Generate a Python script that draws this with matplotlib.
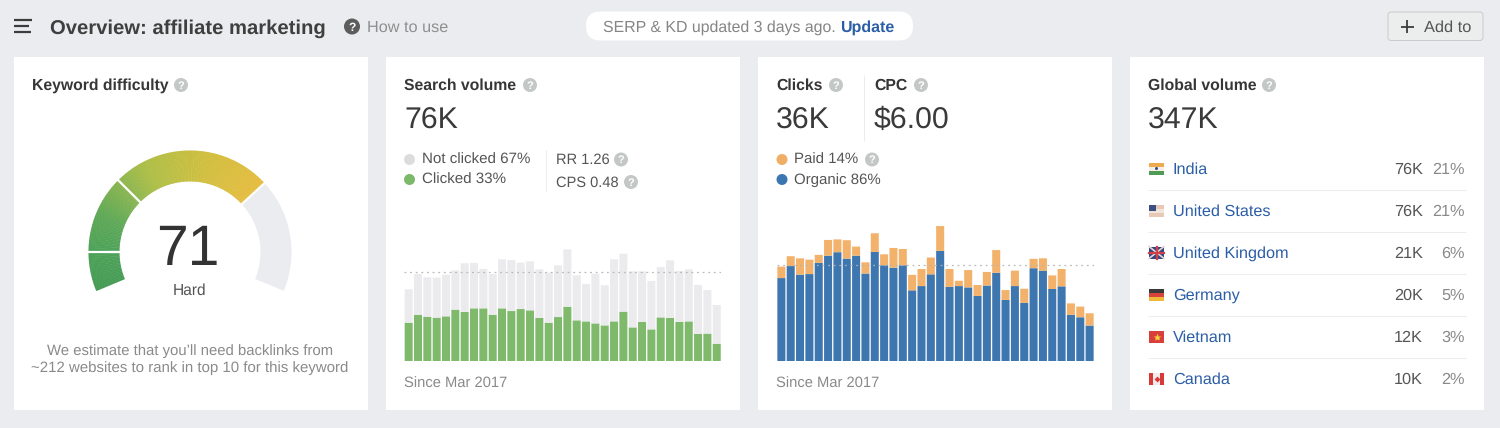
import numpy as np
import matplotlib
matplotlib.use("Agg")
import matplotlib.pyplot as plt
from matplotlib.patches import Rectangle, Circle, Wedge, FancyBboxPatch

plt.rcParams['font.family'] = ['Liberation Sans', 'DejaVu Sans']
plt.rcParams['text.hinting'] = 'none'
plt.rcParams['text.hinting_factor'] = 8

# ---------- data ----------
clicked_k = [32.6,39.4,37.7,36.9,38.0,43.7,41.7,44.8,44.8,39.4,44.8,42.5,44.2,43.1,36.6,32.6,37.4,
             46.2,34.6,33.7,32.0,30.3,33.7,42.0,28.6,33.2,26.9,37.1,36.6,33.2,33.7,23.0,23.3,14.7]
volume_k = [61.0,74.0,71.2,70.9,73.5,77.1,83.1,83.4,78.3,74.0,86.5,85.9,83.7,84.8,78.0,75.2,81.4,
            95.0,72.9,65.5,74.3,64.4,86.5,91.3,76.3,76.3,68.1,80.0,85.6,76.6,78.0,64.7,60.4,47.6]
volume_avg = 76

organic_k = [31.1,35.6,32.4,32.6,36.8,39.5,40.8,38.4,39.5,32.8,40.9,35.9,35.0,35.9,26.5,28.1,32.5,
             41.3,27.8,28.1,27.6,24.4,28.3,33.1,22.9,28.1,21.8,34.8,33.9,27.0,28.0,17.3,16.4,13.3]
clicks_k = [35.4,39.3,38.5,38.0,39.8,45.4,45.6,45.3,42.9,37.0,47.9,40.0,42.4,42.0,32.3,34.5,38.8,
            50.6,34.5,30.1,34.1,28.5,33.4,41.6,26.6,33.9,27.1,38.3,38.5,32.1,34.5,21.6,20.4,17.9]
clicks_avg = 36

difficulty = 71
gauge_breaks = [10, 30, 100]

countries = ["India", "United States", "United Kingdom", "Germany", "Vietnam", "Canada"]
country_volume = ["76K", "76K", "21K", "20K", "12K", "10K"]
country_share = ["21%", "21%", "6%", "5%", "3%", "2%"]

# ---------- colours ----------
BG = "#ebecef"; DARK = "#363636"; MID = "#555555"; GREY = "#8a8a8a"; LINK = "#2b5ea7"
ICON = "#c3c8c6"; LINE = "#ececec"

W, H = 1500, 428
fig = plt.figure(figsize=(W/100, H/100), dpi=100, facecolor=BG)

def px_axes(x0, y0, x1, y1, z=2):
    ax = fig.add_axes([x0/W, 1-y1/H, (x1-x0)/W, (y1-y0)/H], zorder=z)
    ax.patch.set_alpha(0)
    ax.set_axis_off()
    return ax

ui = px_axes(0, 0, W, H, z=1)
ui.set_xlim(0, W); ui.set_ylim(H, 0)

def T(x, y, s, size=15, color=MID, weight="normal", ha="left", **k):
    # y is the vertical middle of the capitals
    return ui.text(x, y-0.7+0.36*size, s, fontsize=size*0.72, color=color, fontweight=weight,
                   ha=ha, va="baseline", **k)

def help_icon(x, y, r=7, fc=ICON, tc="white", size=11):
    ui.add_patch(Circle((x, y), r, fc=fc, ec="none"))
    T(x, y+0.7, "?", size=size, color=tc, weight="bold", ha="center")

def hline(x0, x1, y, c=LINE, lw=1):
    ui.plot([x0, x1], [y, y], color=c, lw=lw*0.72, solid_capstyle="butt")

def vline(x, y0, y1, c=LINE, lw=1):
    ui.plot([x, x], [y0, y1], color=c, lw=lw*0.72, solid_capstyle="butt")

# cards
for x0, x1 in [(14, 368), (386, 740), (758, 1112), (1130, 1484)]:
    ui.add_patch(Rectangle((x0, 57), x1-x0, 353, fc="white", ec="none"))

# header
for y, x1 in [(20, 32), (26, 29), (32, 31)]:
    ui.plot([14, x1], [y, y], color="#3c3c3c", lw=1.6, solid_capstyle="butt")
T(50, 27, "Overview: affiliate marketing", size=20.3, color="#3f3f3f", weight="bold")
help_icon(352, 26.5, r=8, fc="#5c5c5c", size=12)
T(367, 26.5, "How to use", size=16.2, color="#8f8f8f")

ui.add_patch(FancyBboxPatch((586, 11.5), 327, 29, boxstyle="round,pad=0,rounding_size=14.5",
                            fc="white", ec="none"))
T(603, 26.5, "SERP & KD updated 3 days ago.", size=15.85, color="#858585")
T(840, 26.5, "Update", size=16, color=LINK, weight="bold")

ui.add_patch(FancyBboxPatch((1388, 12), 95, 28.5, boxstyle="round,pad=0,rounding_size=3",
                            fc="#eceded", ec="#c8ccca", lw=0.7))
ui.plot([1400.5, 1413.5], [26.5, 26.5], color="#3c3c3c", lw=1.3, solid_capstyle="butt")
ui.plot([1407, 1407], [20, 33], color="#3c3c3c", lw=1.3, solid_capstyle="butt")
T(1424, 26.5, "Add to", size=16.4, color="#555555")

# card 1 text
T(32, 85, "Keyword difficulty", size=15.7, color=DARK, weight="bold")
help_icon(181, 85)
T(190, 290, "Hard", size=15.5, color=MID, ha="center")
T(190, 350, "We estimate that you\u2019ll need backlinks from", size=14.9, color=GREY, ha="center")
T(190, 367, "~212 websites to rank in top 10 for this keyword", size=15, color=GREY, ha="center")

# gauge
g = px_axes(80, 142, 300, 362)
g.set_xlim(-110, 110); g.set_ylim(-110, 110)
START, SWEEP, RO, RI = 202.5, 225.0, 101.5, 70.5
def ang(p):
    return START - SWEEP*p/100

def seg_color(p):
    stops = [(0, "#479c55"), (10, "#4ea25a"), (20, "#5fa958"), (30, "#8db651"),
             (38, "#aebf48"), (55, "#d2bf40"), (71, "#e5bd42")]
    xs = [s[0] for s in stops]
    rgb = np.array([matplotlib.colors.to_rgb(s[1]) for s in stops])
    return [float(np.interp(p, xs, rgb[:, i])) for i in range(3)]

for p in np.arange(0, difficulty, 0.5):
    q = min(p+0.5, difficulty)
    g.add_patch(Wedge((0, 0), RO, ang(q)-0.15, ang(p)+0.15, width=RO-RI, fc=seg_color(p+0.25), ec="none"))
g.add_patch(Wedge((0, 0), RO, ang(100), ang(difficulty), width=RO-RI, fc="#ebecef", ec="none"))
for b in gauge_breaks[:2] + [difficulty]:
    a = np.deg2rad(ang(b))
    g.plot([(RI-1)*np.cos(a), (RO+1)*np.cos(a)], [(RI-1)*np.sin(a), (RO+1)*np.sin(a)],
           color="white", lw=1.6, solid_capstyle="butt")
T(188, 245, str(difficulty), size=57, color="#333333", ha="center")

# card 2 text
T(404, 85, "Search volume", size=15.7, color=DARK, weight="bold")
help_icon(530, 85)
T(404, 118, "76K", size=30.3, color="#3a3a3a")
ui.add_patch(Circle((409.5, 159.5), 5.5, fc="#dcdcdc", ec="none"))
ui.add_patch(Circle((409.5, 179.5), 5.5, fc="#7db96b", ec="none"))
T(422, 159.5, "Not clicked 67%", size=15.1, color=MID)
T(422, 179.5, "Clicked 33%", size=15.1)
vline(546, 150, 191)
T(556, 159.5, "RR 1.26", size=14.6)
T(556, 182, "CPS 0.48", size=14.6)
help_icon(621, 159.5)
help_icon(631, 182)
T(404, 383, "Since Mar 2017", size=14.7, color=GREY)

# card 3 text
T(776, 85, "Clicks", size=15.7, color=DARK, weight="bold")
help_icon(836, 85)
T(874, 85, "CPC", size=15.7, color=DARK, weight="bold")
help_icon(921, 85)
vline(864, 75, 141)
T(776, 118, "36K", size=30.3, color="#3a3a3a")
T(874, 118, "$6.00", size=30.3, color="#3a3a3a")
ui.add_patch(Circle((782, 159.5), 5.5, fc="#f0ad66", ec="none"))
ui.add_patch(Circle((782, 179.5), 5.5, fc="#3c76b0", ec="none"))
T(794, 159.5, "Paid 14%", size=15)
T(794, 179.5, "Organic 86%", size=15)
help_icon(872, 159.5)
T(776, 383, "Since Mar 2017", size=14.7, color=GREY)

# stacked bars
def stacked(x0, x1, ymax, lower, total, avg, c_low, c_up):
    ax = px_axes(x0, 221, x1, 361, z=3)
    xs = np.arange(len(lower))
    lower = np.array(lower); total = np.array(total)
    b1 = ax.bar(xs, lower, width=0.86, color=c_low, linewidth=0)
    b2 = ax.bar(xs, total-lower, bottom=lower, width=0.86, color=c_up, linewidth=0)
    for r in list(b1) + list(b2):
        r.set_snap(False)
    ax.axhline(avg, color="#b4b4b4", lw=0.9, ls=(0, (1.5, 3)), alpha=0.9)
    ax.set_xlim(-0.5, len(lower)-0.5)
    ax.set_ylim(0, ymax)

stacked(404, 721.4, 119.1, clicked_k, volume_k, volume_avg, "#7fba6c", "#ebebee")
stacked(776.7, 1094.3, 52.5, organic_k, clicks_k, clicks_avg, "#3e76b0", "#f2b26c")

# card 4 text
T(1148, 85, "Global volume", size=15.7, color=DARK, weight="bold")
help_icon(1269, 85)
T(1148, 118, "347K", size=30.3, color="#3a3a3a")

FH = 12
def stripes(x, y, cols, w=15, h=FH):
    n = len(cols)
    for i, c in enumerate(cols):
        ui.add_patch(Rectangle((x, y-h/2+i*h/n), w, h/n, fc=c, ec="none"))

rows_y = [169, 211, 253, 295, 337, 379]
fy = [y-0.5 for y in rows_y]
fx = 1149
stripes(fx, fy[0], ["#f0a94e", "#f4efe4", "#4f9a55"])
ui.add_patch(Circle((fx+7.5, fy[0]), 1.5, fc="#2b4a86", ec="none"))
stripes(fx, fy[1], ["#e8c9b8", "#f2e6dc", "#e8c9b8"])
ui.add_patch(Rectangle((fx, fy[1]-6), 7, 6.5, fc="#3b4f80", ec="none"))
ui.add_patch(Rectangle((fx, fy[2]-6), 15, 12, fc="#34477f", ec="none"))
ui.plot([fx, fx+15], [fy[2]-6, fy[2]+6], color="#e8d6d6", lw=1.2)
ui.plot([fx, fx+15], [fy[2]+6, fy[2]-6], color="#e8d6d6", lw=1.2)
ui.plot([fx, fx+15], [fy[2], fy[2]], color="#d1404a", lw=1.6)
ui.plot([fx+7.5, fx+7.5], [fy[2]-6, fy[2]+6], color="#d1404a", lw=1.6)
stripes(fx, fy[3], ["#3a3a3a", "#d6423c", "#f0b93c"])
ui.add_patch(Rectangle((fx, fy[4]-6), 15, 12, fc="#d93f3a", ec="none"))
ui.plot([fx+7.5], [fy[4]], marker="*", ms=6, color="#f5d33f", mec="none")
ui.add_patch(Rectangle((fx, fy[5]-6), 15, 12, fc="#f4ecec", ec="none"))
ui.add_patch(Rectangle((fx, fy[5]-6), 4, 12, fc="#d83a3a", ec="none"))
ui.add_patch(Rectangle((fx+11, fy[5]-6), 4, 12, fc="#d83a3a", ec="none"))
ui.plot([fx+7.5], [fy[5]], marker="D", ms=3, color="#d83a3a", mec="none")

for i, (c, v, s, y) in enumerate(zip(countries, country_volume, country_share, rows_y)):
    T(1173, y, c, size=16.2, color=LINK)
    T(1423, y, v, size=16.2, color=MID, ha="right")
    T(1465, y, s, size=16.2, color=GREY, ha="right")
    if i < len(countries)-1:
        hline(1148, 1466, y+21)

fig.savefig("out.png", dpi=100, facecolor=BG)
